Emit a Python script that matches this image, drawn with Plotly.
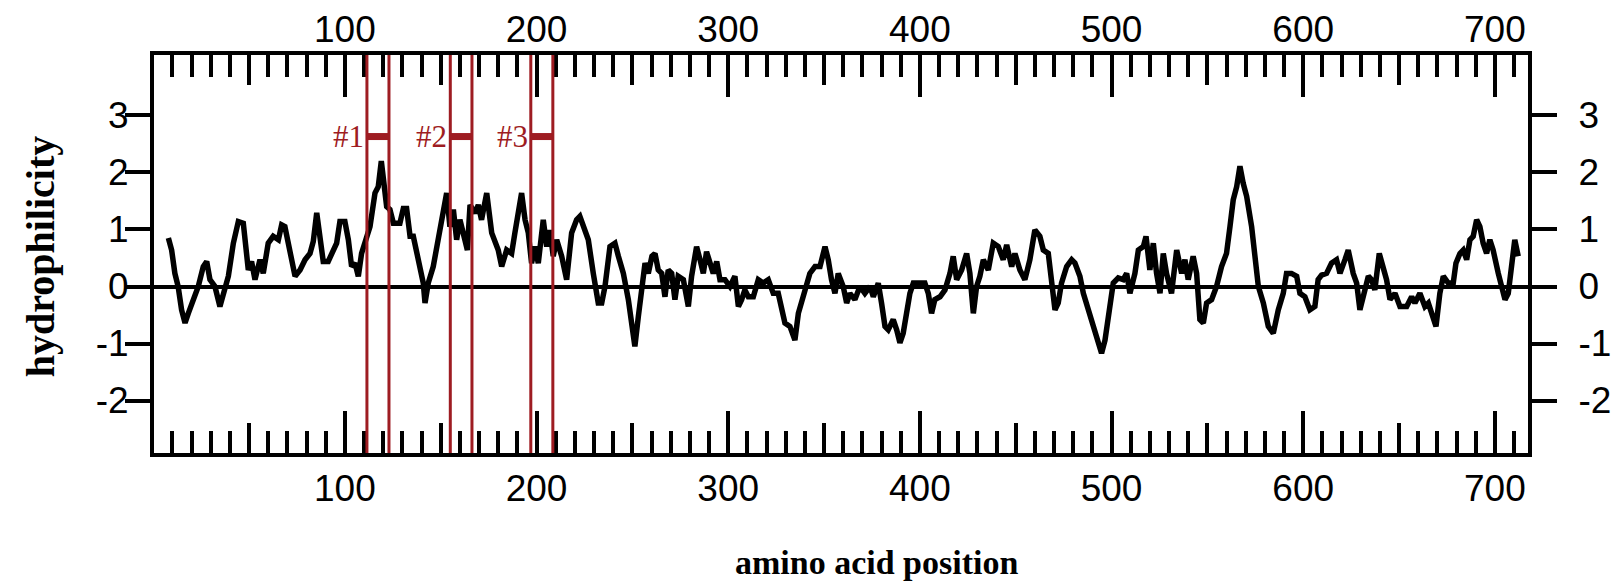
import plotly.graph_objects as go

# ---------------- data ----------------
pos_a = [7.9, 9.6, 11.3, 13.0, 14.8, 16.6, 18.3, 20.9, 23.5, 26.1, 27.9, 29.6, 32.2, 34.8, 36.6,
         39.2, 41.8, 44.4, 47.0, 48.7, 49.6, 51.3, 53.1, 55.7, 57.4, 60.0, 62.6, 65.3, 67.0, 68.7,
         70.5, 72.2, 74.0, 76.6, 79.2, 81.8, 83.5, 85.3, 87.0, 88.7, 91.3, 93.1, 95.7, 97.4, 100.0,
         101.8, 103.5, 105.3, 107.0, 108.7, 110.5, 113.1, 115.7, 117.4]
hyd_a = [0.85, 0.64, 0.23, 0.00, -0.41, -0.64, -0.47, -0.23, 0.00, 0.35, 0.44, 0.12, 0.00, -0.35, -0.12,
         0.18, 0.76, 1.14, 1.11, 0.58, 0.29, 0.44, 0.12, 0.47, 0.23, 0.76, 0.88, 0.82, 1.08, 1.05,
         0.76, 0.47, 0.18, 0.29, 0.47, 0.58, 0.79, 1.29, 0.76, 0.44, 0.44, 0.58, 0.76, 1.14, 1.14,
         0.82, 0.35, 0.41, 0.18, 0.58, 0.76, 1.05, 1.64, 1.75]

pos_b = [119.0, 120.0, 121.8, 123.5, 125.3, 128.7, 130.5, 132.2, 134.0, 135.7, 137.4, 139.2, 140.9,
         141.8, 143.5, 146.1, 148.7, 150.5, 153.1, 154.8, 156.6, 158.3, 160.0, 162.6, 163.9, 165.3,
         167.9, 169.6, 171.3, 174.0, 176.6, 180.0, 181.8, 184.4, 187.0, 188.7, 192.2, 194.0, 195.7,
         197.4, 199.2, 200.9, 203.5, 205.3, 207.0, 208.7, 210.5, 213.1, 215.7, 218.3, 220.9, 222.6,
         224.4, 227.0, 229.6, 232.2, 234.0, 235.7]
hyd_b = [2.20, 1.87, 1.40, 1.35, 1.11, 1.11, 1.37, 1.37, 0.88, 0.88, 0.58, 0.35, 0.06,
         -0.29, 0.06, 0.35, 0.82, 1.11, 1.64, 1.05, 1.35, 0.82, 1.17, 0.82, 0.64, 1.43,
         1.29, 1.43, 1.17, 1.64, 0.94, 0.64, 0.35, 0.64, 0.58, 0.94, 1.64, 1.17, 0.94,
         0.41, 0.70, 0.41, 1.17, 0.70, 0.99, 0.53, 0.82, 0.53, 0.12, 0.94, 1.17, 1.23,
         1.05, 0.82, 0.23, -0.29, -0.29, 0.00]

pos_c = [238.3, 240.9, 242.7, 245.3, 247.9, 249.6, 251.3, 253.1, 254.8, 256.6, 258.3, 260.2, 261.8,
         263.5, 265.3, 267.0, 268.7, 270.5, 272.2, 273.9, 276.6, 279.2, 280.9, 283.5, 285.3, 287.0,
         288.7, 290.5, 292.2, 294.0, 295.7, 298.3, 300.9, 303.5, 305.3, 307.0, 308.7, 310.5, 313.1,
         315.7, 318.3, 320.9, 323.5, 326.1, 327.9, 329.6, 332.2, 334.8, 336.6, 338.3, 340.9, 342.6,
         345.3, 347.9, 350.5, 352.2, 353.9, 355.7, 357.4]
hyd_c = [0.70, 0.76, 0.53, 0.23, -0.23, -0.70, -1.05, -0.53, -0.12, 0.41, 0.23, 0.53, 0.58,
         0.29, 0.23, -0.18, 0.29, 0.23, -0.23, 0.18, 0.12, -0.35, 0.18, 0.70, 0.47, 0.23,
         0.61, 0.41, 0.23, 0.44, 0.12, 0.12, 0.00, 0.18, -0.35, -0.23, -0.06, -0.18, -0.18,
         0.12, 0.06, 0.12, -0.12, -0.12, -0.35, -0.64, -0.70, -0.94, -0.47, -0.29, 0.00, 0.23,
         0.35, 0.35, 0.70, 0.47, 0.12, -0.12, 0.23]

pos_d = [360.0, 361.8, 363.5, 366.1, 368.7, 371.3, 374.0, 375.7, 378.3, 380.0, 381.8, 383.5, 386.1,
         387.9, 389.6, 391.3, 393.1, 394.8, 396.6, 400.0, 402.6, 404.4, 406.1, 407.8, 410.5, 413.1,
         415.7, 417.4, 419.2, 421.8, 424.4, 426.1, 427.9, 429.6, 431.3, 433.1, 435.7, 438.3, 440.9,
         443.5, 445.3, 447.9, 449.6, 452.2, 454.8, 457.4, 460.0, 462.6, 464.4, 467.0, 468.7, 470.5,
         472.2, 473.9, 476.6, 479.2]
hyd_d = [0.00, -0.29, -0.12, -0.23, 0.00, -0.12, 0.00, -0.18, 0.06, -0.29, -0.70, -0.76, -0.58,
         -0.76, -0.99, -0.82, -0.47, -0.12, 0.06, 0.06, 0.06, -0.12, -0.47, -0.23, -0.18, -0.06,
         0.23, 0.53, 0.12, 0.29, 0.58, 0.23, -0.47, 0.00, 0.18, 0.47, 0.29, 0.76, 0.70,
         0.47, 0.73, 0.35, 0.58, 0.29, 0.12, 0.47, 0.99, 0.88, 0.64, 0.58, 0.00, -0.41,
         -0.29, 0.06, 0.35, 0.47]

pos_e = [480.9, 483.5, 485.3, 487.9, 490.5, 493.1, 494.8, 496.6, 498.3, 500.9, 503.5, 506.1, 507.9,
         509.6, 512.2, 514.0, 516.6, 518.0, 520.0, 521.8, 523.5, 525.3, 527.0, 528.7, 531.3, 534.0,
         536.6, 538.3, 540.0, 542.6, 544.4, 546.1, 547.9, 549.6, 552.2, 554.8, 557.4, 560.0, 561.8,
         563.5, 565.3, 567.0, 568.7, 570.5, 573.1, 574.8, 576.6, 579.2, 581.8, 584.4, 587.0, 589.6,
         591.3, 593.9, 596.6, 598.3]
hyd_e = [0.41, 0.18, -0.12, -0.41, -0.70, -0.94, -1.17, -0.94, -0.47, 0.06, 0.15, 0.12, 0.23,
         -0.12, 0.23, 0.64, 0.70, 0.88, 0.29, 0.76, 0.23, -0.12, 0.58, 0.23, -0.12, 0.64,
         0.23, 0.47, 0.12, 0.53, 0.23, -0.58, -0.64, -0.29, -0.23, 0.00, 0.35, 0.58, 1.05,
         1.52, 1.75, 2.11, 1.81, 1.58, 1.05, 0.47, 0.00, -0.29, -0.70, -0.82, -0.41, -0.12,
         0.23, 0.23, 0.18, -0.12]

pos_f = [600.9, 603.5, 606.1, 607.8, 609.6, 612.2, 614.8, 617.4, 619.2, 621.8, 623.5, 626.1, 627.9,
         629.6, 632.2, 634.0, 635.7, 637.4, 639.7, 641.8, 643.5, 645.3, 647.9, 650.5, 654.0, 656.6,
         658.3, 660.9, 663.5, 665.3, 667.9, 669.3, 671.3, 673.1, 675.7, 678.3, 679.7, 681.8, 683.5,
         685.3, 687.0, 688.7, 690.5, 692.2, 693.9, 695.7, 697.4, 699.1, 701.8, 703.5, 705.3, 707.0,
         708.7, 710.4, 712.2]
hyd_f = [-0.18, -0.41, -0.35, 0.12, 0.20, 0.23, 0.41, 0.47, 0.23, 0.47, 0.64, 0.23, 0.06,
         -0.41, -0.06, 0.18, 0.12, -0.06, 0.58, 0.35, 0.12, -0.23, -0.12, -0.35, -0.35, -0.18,
         -0.29, -0.12, -0.35, -0.29, -0.58, -0.70, -0.12, 0.18, 0.06, 0.06, 0.41, 0.58, 0.64,
         0.47, 0.82, 0.88, 1.17, 1.05, 0.76, 0.58, 0.82, 0.64, 0.23, 0.00, -0.23, -0.12,
         0.35, 0.82, 0.53]

region_names = ["#1", "#2", "#3"]
region_start = [111.5, 155.0, 197.0]
region_end = [123.0, 166.3, 208.5]
region_bar_level = 2.63

major_ticks = [100, 200, 300, 400, 500, 600, 700]
half_ticks = [50, 150, 250, 350, 450, 550, 650]
y_ticks = [-2, -1, 0, 1, 2, 3]
y_tick_labels = ["-2", "-1", "0", "1", "2", "3"]
x_range = [0.4, 717.3]
y_range = [-2.92, 4.06]

# ---------------- figure ----------------
positions = pos_a + pos_b + pos_c + pos_d + pos_e + pos_f
hydro = hyd_a + hyd_b + hyd_c + hyd_d + hyd_e + hyd_f

RED = "#9e1c22"
TICKFONT = dict(family="Liberation Sans, Arial, sans-serif", size=37, color="black")
SERIF = "Liberation Serif, Times New Roman, serif"

fig = go.Figure()
fig.add_trace(go.Scatter(x=positions, y=hydro, mode="lines",
                         line=dict(color="black", width=5.5),
                         xaxis="x", yaxis="y", hoverinfo="skip", showlegend=False))
for xa, ya in [("x2", "y2"), ("x3", "y"), ("x4", "y")]:
    fig.add_trace(go.Scatter(x=[None], y=[None], xaxis=xa, yaxis=ya,
                             hoverinfo="skip", showlegend=False))

minor_ticks = dict(tickmode="linear", tick0=0, dtick=10, ticks="inside",
                   ticklen=22, tickwidth=4, tickcolor="black", showgrid=False)

def major_x(side, standoff, overlay=None):
    d = dict(range=x_range, side=side, tickmode="array", tickvals=major_ticks,
             ticktext=[str(v) for v in major_ticks],
             ticks="inside", ticklen=42, tickwidth=4, tickcolor="black",
             showline=True, linewidth=4, linecolor="black", showgrid=False,
             zeroline=False, tickfont=TICKFONT, ticklabelstandoff=standoff,
             minor=minor_ticks, anchor="y", automargin=False)
    if overlay:
        d["overlaying"] = overlay
    return d

def half_x(side):
    return dict(range=x_range, side=side, overlaying="x", anchor="y",
                tickmode="array", tickvals=half_ticks, ticks="inside",
                ticklen=30, tickwidth=4, tickcolor="black", automargin=False,
                showticklabels=False, showline=False, showgrid=False, zeroline=False)

def y_ax(side, standoff, overlay=None):
    d = dict(range=y_range, side=side, tickmode="array", tickvals=y_ticks,
             ticktext=y_tick_labels,
             ticks="outside", ticklen=25, tickwidth=4, tickcolor="black",
             showline=True, linewidth=4, linecolor="black", showgrid=False,
             zeroline=True, zerolinewidth=4, zerolinecolor="black",
             tickfont=TICKFONT, ticklabelstandoff=standoff, automargin=False)
    if overlay:
        d["overlaying"] = overlay
    return d

shapes = []
annotations = []
for name, s, e in zip(region_names, region_start, region_end):
    for xv in (s, e):
        shapes.append(dict(type="line", xref="x", yref="y domain", x0=xv, x1=xv, y0=0, y1=1,
                           line=dict(color=RED, width=3), layer="above"))
    shapes.append(dict(type="line", xref="x", yref="y", x0=s, x1=e,
                       y0=region_bar_level, y1=region_bar_level,
                       line=dict(color=RED, width=7), layer="above"))
    annotations.append(dict(x=s, y=region_bar_level, xref="x", yref="y", text=name,
                            showarrow=False, xanchor="right", yanchor="middle", xshift=-1,
                            font=dict(family=SERIF, size=31, color=RED)))

annotations.append(dict(x=0.526, y=-0.276, xref="paper", yref="paper",
                        text="<b>amino acid position</b>", showarrow=False,
                        xanchor="center", yanchor="middle",
                        font=dict(family=SERIF, size=34, color="black")))
annotations.append(dict(x=-0.082, y=0.495, xref="paper", yref="paper",
                        text="<b>hydrophilicity</b>", showarrow=False, textangle=-90,
                        xanchor="center", yanchor="middle",
                        font=dict(family=SERIF, size=40, color="black")))

fig.update_layout(
    width=1614, height=585,
    margin=dict(l=154, r=86, t=55, b=132, autoexpand=False),
    paper_bgcolor="white", plot_bgcolor="white",
    showlegend=False,
    xaxis=major_x("bottom", 0),
    xaxis2=major_x("top", -6, overlay="x"),
    xaxis3=half_x("bottom"),
    xaxis4=half_x("top"),
    yaxis=y_ax("left", -11),
    yaxis2=y_ax("right", 14, overlay="y"),
    shapes=shapes,
    annotations=annotations,
)

# remove the default page margin so the figure fills the window exactly
fig.write_html("out.html", config={"displayModeBar": False, "staticPlot": True},
               post_script="document.body.style.margin='0';")
